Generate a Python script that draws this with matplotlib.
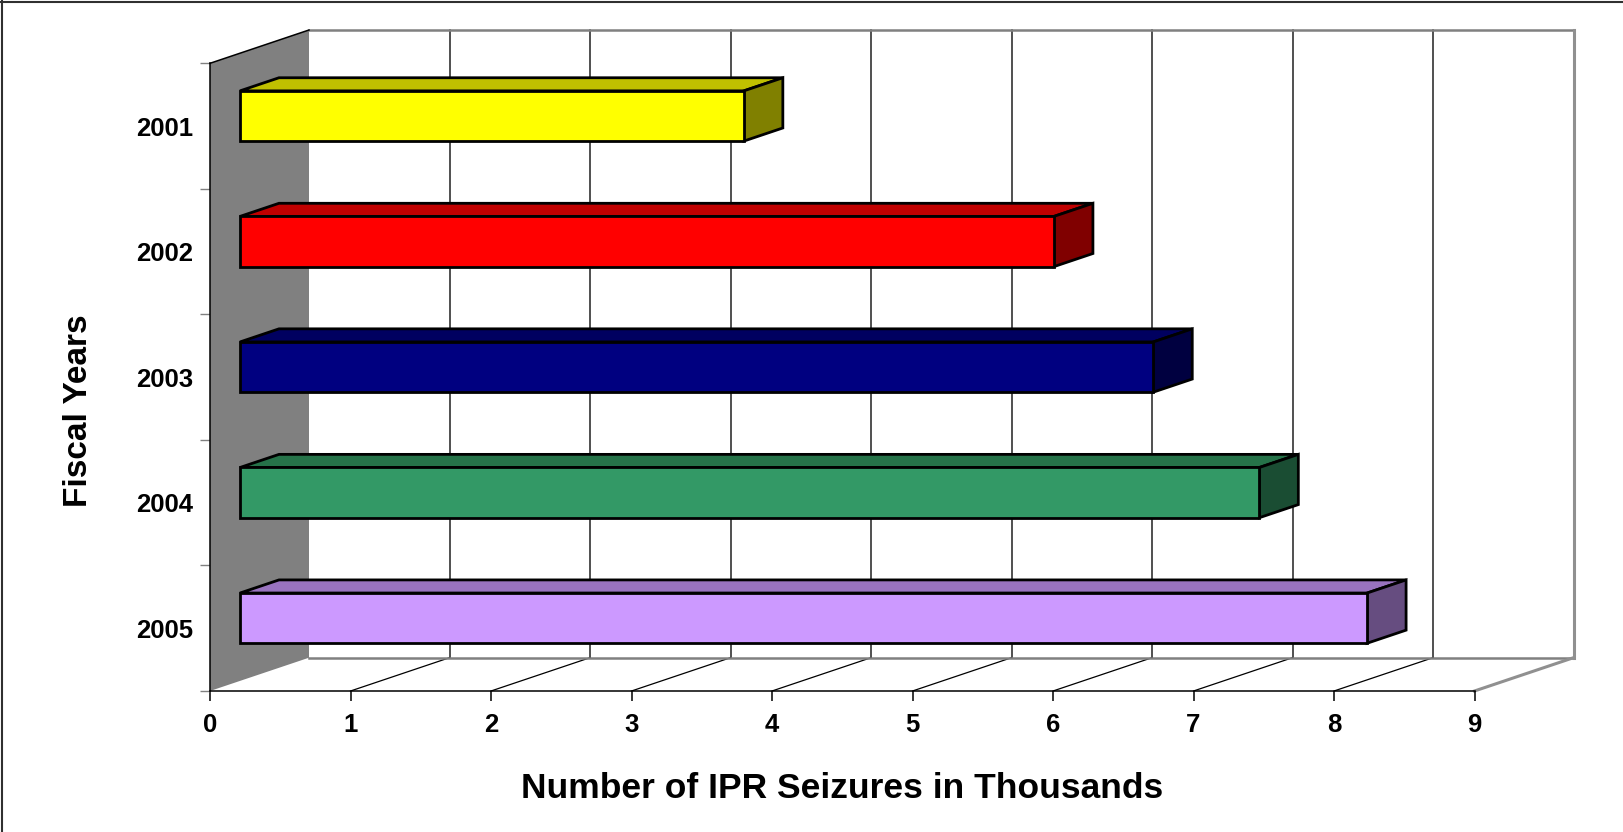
import numpy as np
import matplotlib
matplotlib.use('Agg')
import matplotlib.pyplot as plt
from matplotlib.patches import Polygon
from matplotlib.lines import Line2D
from matplotlib.transforms import IdentityTransform

# IPR seizures per fiscal year, in thousands
years = ['2001', '2002', '2003', '2004', '2005']
seizures = [3.586, 5.793, 6.500, 7.255, 8.022]
x_ticks = list(range(10))

front_colors = ['#FFFF00', '#FF0000', '#000080', '#339966', '#CC99FF']
top_colors = ['#C0C000', '#C00000', '#000060', '#267349', '#9973BF']
side_colors = ['#808000', '#800000', '#000040', '#1A4D33', '#664D80']

plt.rcParams['font.family'] = ['Liberation Sans', 'DejaVu Sans']
plt.rcParams['font.weight'] = 'bold'
plt.rcParams['axes.labelweight'] = 'bold'

W, H = 1623, 832
fig = plt.figure(figsize=(W / 100, H / 100), dpi=100)
ax = fig.add_axes([210 / W, 141 / H, 1264.5 / W, 627.7 / H])
ax.set_xlim(0, 9)
ax.set_ylim(0, 5)
ax.patch.set_alpha(0)

# oblique depth vector (pixels) for the pseudo-3D box
DEPTH = np.array([99.0, 33.3])
BAR_FRONT, BAR_BACK = 30 / 99, 69 / 99
BAR_HALF = 0.2


def pt(v, c, d=0.0):
    return ax.transData.transform((v, c)) + d * DEPTH


def face(pts, fc, ec='none', lw=0.0, z=1):
    ax.add_patch(Polygon(pts, closed=True, facecolor=fc, edgecolor=ec,
                         linewidth=lw, joinstyle='miter',
                         transform=IdentityTransform(), clip_on=False, zorder=z))


def seg(p0, p1, color, lw, z=1.5):
    ax.add_line(Line2D([p0[0], p1[0]], [p0[1], p1[1]], color=color, linewidth=lw,
                       transform=IdentityTransform(), clip_on=False, zorder=z))


ymax = len(years)
xmax = x_ticks[-1]

# back wall
face([pt(0, 0, 1), pt(xmax, 0, 1), pt(xmax, ymax, 1), pt(0, ymax, 1)], 'white')
for v in x_ticks[1:-1]:
    seg(pt(v, 0, 1), pt(v, ymax, 1), '#202020', 1.1)
    seg(pt(v, 0, 0), pt(v, 0, 1), 'black', 0.9)
seg(pt(0, 0, 1), pt(xmax, 0, 1), '#808080', 1.8)
seg(pt(0, ymax, 1), pt(xmax, ymax, 1), '#808080', 1.8)
seg(pt(xmax, 0, 1), pt(xmax, ymax, 1), '#909090', 2.2)
seg(pt(xmax, 0, 0), pt(xmax, 0, 1), '#909090', 2.2)

# side wall
face([pt(0, 0, 0), pt(0, ymax, 0), pt(0, ymax, 1), pt(0, 0, 1)], '#808080', z=1.6)
seg(pt(0, ymax, 0), pt(0, ymax, 1), 'black', 1.1, z=1.7)

# bars
for i, val in enumerate(seizures):
    c = ymax - 0.5 - i
    lo, hi = c - BAR_HALF, c + BAR_HALF
    kw = dict(ec='black', lw=2.0, z=3)
    face([pt(0, hi, BAR_FRONT), pt(val, hi, BAR_FRONT),
          pt(val, hi, BAR_BACK), pt(0, hi, BAR_BACK)], top_colors[i], **kw)
    face([pt(val, lo, BAR_FRONT), pt(val, hi, BAR_FRONT),
          pt(val, hi, BAR_BACK), pt(val, lo, BAR_BACK)], side_colors[i], **kw)
    face([pt(0, lo, BAR_FRONT), pt(val, lo, BAR_FRONT),
          pt(val, hi, BAR_FRONT), pt(0, hi, BAR_FRONT)], front_colors[i], **kw)

# axes
for s in ['top', 'right']:
    ax.spines[s].set_visible(False)
ax.spines['left'].set_color('black')
ax.spines['bottom'].set_color('black')
ax.spines['left'].set_linewidth(1.1)
ax.spines['bottom'].set_linewidth(1.1)
ax.spines['left'].set_zorder(1.8)

ax.set_xticks(x_ticks)
ax.set_xticklabels([str(t) for t in x_ticks])
ax.tick_params(axis='x', length=7.2, width=1.1, color='black', labelsize=18.5, pad=9)

ax.set_yticks(range(ymax + 1))
ax.set_yticklabels([])
ax.set_yticks([ymax - 0.5 - i for i in range(ymax)], minor=True)
ax.set_yticklabels(years, minor=True)
ax.tick_params(axis='y', which='major', length=7.2, width=1, color='#808080')
ax.tick_params(axis='y', which='minor', length=0, labelsize=18.5, pad=12)

ax.set_xlabel('Number of IPR Seizures in Thousands', fontsize=25.5,
              fontweight='bold', labelpad=25)
fig.text(78.5 / W, 1 - 411 / H, 'Fiscal Years', rotation=90,
         ha='center', va='center', fontsize=24, fontweight='bold')

# frame along top and left edge
fig.add_artist(Line2D([0, 1], [1 - 1.5 / H] * 2, transform=fig.transFigure,
                      color='#303030', lw=1.5))
fig.add_artist(Line2D([1.5 / W] * 2, [0, 1], transform=fig.transFigure,
                      color='#303030', lw=1.5))

fig.savefig('out.png', dpi=100)
